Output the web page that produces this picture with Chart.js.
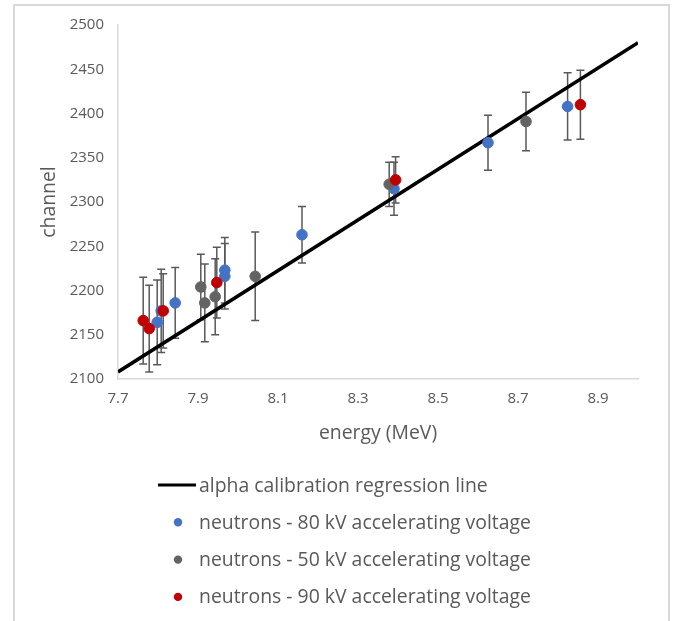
<!DOCTYPE html>
<html>
<head>
<meta charset="utf-8">
<script src="https://cdn.jsdelivr.net/npm/chart.js@4.4.1/dist/chart.umd.min.js"></script>
<style>
  body { margin: 0; background: #fff; overflow: hidden; }
  #frame { position: absolute; left: 13px; top: 4px; width: 653px; height: 640px; border: 2px solid #d9d9d9; }
  #chart { position: absolute; left: 0; top: 0; }
</style>
</head>
<body>
<div id="frame"></div>
<canvas id="chart" width="675" height="621"></canvas>
<script>
// regression line (alpha calibration)
var lineEnergy = [7.7, 9.0];
var lineChannel = [2108, 2480];

// neutrons - 80 kV
var e80 = [7.798, 7.808, 7.843, 7.967, 7.967, 8.16, 8.39, 8.625, 8.824];
var c80 = [2164, 2177, 2186, 2223, 2216, 2263, 2315, 2367, 2408];
var err80 = [48, 47, 40, 37, 37, 32, 30, 31, 38];

// neutrons - 50 kV
var e50 = [7.907, 7.917, 7.943, 8.043, 8.378, 8.72];
var c50 = [2204, 2186, 2193, 2216, 2320, 2391];
var err50 = [37, 44, 43, 50, 25, 33];

// neutrons - 90 kV
var e90 = [7.763, 7.778, 7.813, 7.947, 8.394, 8.856];
var c90 = [2166, 2157, 2177, 2209, 2325, 2410];
var err90 = [49, 49, 42, 40, 26, 39];

var xTicks = [7.7, 7.9, 8.1, 8.3, 8.5, 8.7, 8.9];

var FONT = "'Open Sans', sans-serif";
var TXT = '#595959';

function pts(xs, ys) {
	var out = [];
	for (var i = 0; i < xs.length; i++) out.push({x: xs[i], y: ys[i]});
	return out;
}

// error bars drawn through the scales
var errorBars = {
	id: 'errorBars',
	beforeDatasetsDraw: function(chart) {
		var ctx = chart.ctx;
		var xs = chart.scales.x, ys = chart.scales.y;
		ctx.save();
		ctx.strokeStyle = '#595959';
		ctx.lineWidth = 1.5;
		chart.data.datasets.forEach(function(ds) {
			if (!ds.err) return;
			ds.data.forEach(function(p, i) {
				var px = xs.getPixelForValue(p.x);
				var top = ys.getPixelForValue(p.y + ds.err[i]);
				var bot = ys.getPixelForValue(p.y - ds.err[i]);
				ctx.beginPath();
				ctx.moveTo(px, top); ctx.lineTo(px, bot);
				ctx.moveTo(px - 4, top); ctx.lineTo(px + 4, top);
				ctx.moveTo(px - 4, bot); ctx.lineTo(px + 4, bot);
				ctx.stroke();
			});
		});
		ctx.restore();
	}
};

// legend stacked under the axis title, left aligned
var sideLegend = {
	id: 'sideLegend',
	afterDraw: function(chart) {
		var ctx = chart.ctx;
		var y0 = chart.chartArea.bottom + 106;
		var rowH = 37.3;
		ctx.save();
		ctx.font = '19.4px ' + FONT;
		ctx.textBaseline = 'middle';
		chart.data.datasets.forEach(function(ds, i) {
			var y = y0 + i * rowH;
			if (ds.type === 'line') {
				ctx.strokeStyle = ds.borderColor;
				ctx.lineWidth = 3;
				ctx.beginPath();
				ctx.moveTo(158, y); ctx.lineTo(196, y);
				ctx.stroke();
			} else {
				ctx.fillStyle = ds.backgroundColor;
				ctx.beginPath();
				ctx.arc(178, y, 4.2, 0, Math.PI * 2);
				ctx.fill();
			}
			ctx.fillStyle = TXT;
			ctx.fillText(ds.label, 199, y + 1);
		});
		ctx.restore();
	}
};

new Chart(document.getElementById('chart'), {
	type: 'scatter',
	data: {
		datasets: [
			{
				type: 'line',
				label: 'alpha calibration regression line',
				data: pts(lineEnergy, lineChannel),
				borderColor: '#000000',
				borderWidth: 3.5,
				pointRadius: 0,
				fill: false,
				order: 4
			},
			{
				label: 'neutrons - 80 kV accelerating voltage',
				data: pts(e80, c80),
				err: err80,
				backgroundColor: '#4472c4',
				borderColor: '#4472c4',
				pointRadius: 5.3,
				order: 3
			},
			{
				label: 'neutrons - 50 kV accelerating voltage',
				data: pts(e50, c50),
				err: err50,
				backgroundColor: '#636363',
				borderColor: '#636363',
				pointRadius: 5.3,
				order: 2
			},
			{
				label: 'neutrons - 90 kV accelerating voltage',
				data: pts(e90, c90),
				err: err90,
				backgroundColor: '#c00000',
				borderColor: '#c00000',
				pointRadius: 5.3,
				order: 1
			}
		]
	},
	options: {
		responsive: false,
		animation: false,
		layout: { padding: { left: 0, right: 37, top: 25, bottom: 0 } },
		plugins: {
			legend: { display: false },
			tooltip: { enabled: false }
		},
		scales: {
			x: {
				type: 'linear',
				min: 7.7,
				max: 9.0,
				afterBuildTicks: function(axis) {
					axis.ticks = xTicks.map(function(v) { return {value: v}; });
				},
				afterFit: function(axis) { axis.height = 242; },
				grid: { display: false, drawTicks: false },
				border: { display: true, color: '#d9d9d9', width: 1.5 },
				ticks: {
					padding: 11,
					color: TXT,
					font: { family: FONT, size: 15 },
					callback: function(v) { return v.toFixed(1); }
				},
				title: {
					display: true,
					text: 'energy (MeV)',
					color: TXT,
					font: { family: FONT, size: 19.4 },
					padding: { top: 0, bottom: 176 }
				}
			},
			y: {
				min: 2100,
				max: 2500,
				afterFit: function(axis) { axis.width = 118; },
				grid: { display: false, drawTicks: false },
				border: { display: true, color: '#d9d9d9', width: 1.5 },
				ticks: {
					stepSize: 50,
					padding: 14,
					color: TXT,
					font: { family: FONT, size: 15 },
					callback: function(v) { return String(v); }
				},
				title: {
					display: true,
					text: 'channel',
					color: TXT,
					font: { family: FONT, size: 19.4 },
					padding: { top: 38, bottom: 0 }
				}
			}
		}
	},
	plugins: [errorBars, sideLegend]
});
</script>
</body>
</html>
